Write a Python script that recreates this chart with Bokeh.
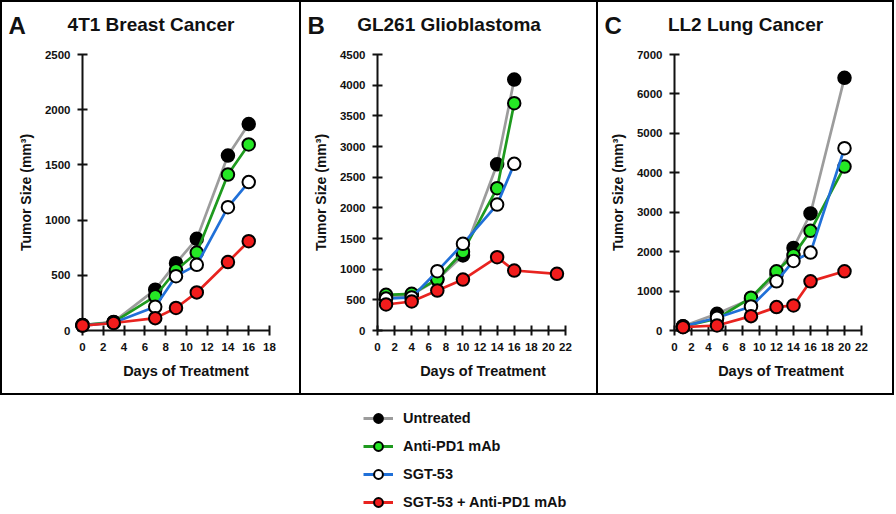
from bokeh.plotting import figure
from bokeh.models import Range1d, FixedTicker, Legend, LegendItem, ColumnDataSource
from bokeh.core.properties import value
from bokeh.layouts import row, column
from bokeh.embed import file_html
from bokeh.resources import INLINE

# ---------------- data ----------------
SERIES = ["Untreated", "Anti-PD1 mAb", "SGT-53", "SGT-53 + Anti-PD1 mAb"]
LINE_COLORS = ["#9c9c9c", "#1e9a1e", "#2070d8", "#e8231f"]
FILL_COLORS = ["#000000", "#25e825", "#ffffff", "#f21c1c"]

a_days = [0, 3, 7, 9, 11, 14, 16]
a_untreated = [50, 78, 370, 610, 830, 1585, 1870]
a_pd1 = [50, 75, 310, 545, 706, 1413, 1685]
a_sgt = [45, 70, 215, 492, 595, 1117, 1344]
a_combo = [45, 68, 112, 204, 345, 620, 809]
a_xticks = [0, 2, 4, 6, 8, 10, 12, 14, 16, 18]
a_yticks = [0, 500, 1000, 1500, 2000, 2500]

b_days = [1, 4, 7, 10, 14, 16]
b_combo_days = [1, 4, 7, 10, 14, 16, 21]
b_untreated = [540, 580, 830, 1223, 2710, 4092]
b_pd1 = [581, 598, 835, 1285, 2320, 3706]
b_sgt = [520, 540, 967, 1413, 2054, 2717]
b_combo = [424, 473, 652, 831, 1195, 978, 924]
b_xticks = [0, 2, 4, 6, 8, 10, 12, 14, 16, 18, 20, 22]
b_yticks = [0, 500, 1000, 1500, 2000, 2500, 3000, 3500, 4000, 4500]

c_days = [1, 5, 9, 12, 14, 16, 20]
c_untreated = [110, 424, 800, 1420, 2094, 2968, 6409]
c_pd1 = [100, 300, 831, 1501, 1908, 2527, 4159]
c_sgt = [100, 322, 610, 1247, 1764, 1976, 4623]
c_combo = [84, 127, 364, 593, 636, 1247, 1501]
c_xticks = [0, 2, 4, 6, 8, 10, 12, 14, 16, 18, 20, 22]
c_yticks = [0, 1000, 2000, 3000, 4000, 5000, 6000, 7000]

PANELS = [
    dict(letter="A", title="4T1 Breast Cancer", xticks=a_xticks, yticks=a_yticks,
         series=[(a_days, a_untreated), (a_days, a_pd1), (a_days, a_sgt), (a_days, a_combo)]),
    dict(letter="B", title="GL261 Glioblastoma", xticks=b_xticks, yticks=b_yticks,
         series=[(b_days, b_untreated), (b_days, b_pd1), (b_days, b_sgt), (b_combo_days, b_combo)]),
    dict(letter="C", title="LL2 Lung Cancer", xticks=c_xticks, yticks=c_yticks,
         series=[(c_days, c_untreated), (c_days, c_pd1), (c_days, c_sgt), (c_days, c_combo)]),
]

# ---------------- layout (pixels) ----------------
# per panel: outer width, left/right border, y-axis x, x-axis end x, frame right x (canvas px)
GEOM = [
    dict(w=299, bl=2, br=0, yax=80, xend=267, fr=287),
    dict(w=297, bl=2, br=0, yax=76, xend=264, fr=287),
    dict(w=298, bl=2, br=2, yax=76, xend=263, fr=289),
]
PANEL_H = 395        # incl. top and bottom border
FRAME_TOP = 52       # canvas y of top tick
FRAME_BOT = 328      # canvas y of zero
LETTER_POS = (6, 23)  # canvas px, baseline
TITLE_Y = 22          # canvas px, baseline
LEG_H = 119
FONT = "Liberation Sans"
BORDER = "2px solid black"
INK = "#111111"


def make_panel(cfg, g):
    xmax = cfg["xticks"][-1]
    ymax = cfg["yticks"][-1]
    cw = g["w"]
    ch = PANEL_H
    k = (g["xend"] - g["yax"]) / xmax          # px per day
    m = (FRAME_BOT - FRAME_TOP) / ymax          # px per mm3
    xe = (g["fr"] - g["yax"]) / k
    styles = {"border-left": BORDER, "border-top": BORDER, "border-bottom": BORDER}
    if g["br"]:
        styles["border-right"] = BORDER
    p = figure(width=g["w"], height=PANEL_H, x_range=Range1d(0, xe), y_range=Range1d(0, ymax),
               toolbar_location=None, output_backend="svg",
               min_border_left=g["yax"], min_border_right=cw - g["fr"],
               min_border_top=FRAME_TOP, min_border_bottom=ch - FRAME_BOT,
               outline_line_color=None, styles=styles)
    p.grid.visible = False

    for ax in (p.xaxis[0], p.yaxis[0]):
        ax.axis_line_width = 2
        ax.axis_line_color = INK
        ax.major_tick_line_width = 2
        ax.major_tick_line_color = INK
        ax.major_tick_in = 5
        ax.major_tick_out = 5
        ax.minor_tick_line_color = None
        ax.major_label_text_font = FONT
        ax.major_label_text_font_style = "bold"
        ax.major_label_text_font_size = "11.5px"
        ax.major_label_text_color = INK
        ax.axis_label_text_font = FONT
        ax.axis_label_text_font_style = "bold"
        ax.axis_label_text_color = INK

    p.xaxis.axis_label_text_font_size = "14.5px"
    p.yaxis.axis_label_text_font_size = "14px"
    p.xaxis.bounds = (0, xmax)
    p.xaxis.ticker = FixedTicker(ticks=cfg["xticks"])
    p.yaxis.ticker = FixedTicker(ticks=cfg["yticks"])
    p.xaxis.major_label_standoff = 7
    p.yaxis.major_label_standoff = 7
    p.xaxis.axis_label_standoff = 9
    p.yaxis.axis_label_standoff = 8
    p.xaxis.axis_label = "Days of Treatment"
    p.yaxis.axis_label = "Tumor Size (mm\u00b3)"

    for (xd, yd), lc, fc in zip(cfg["series"], LINE_COLORS, FILL_COLORS):
        p.line(xd, yd, line_color=lc, line_width=2.7, level="overlay")
        p.scatter(xd, yd, size=12.5, fill_color=fc, line_color="black", line_width=2, level="overlay")

    # panel letter and title, placed in the header strip above the axes
    def to_data(cx, cy):
        return (cx - g["yax"]) / k, ymax + (FRAME_TOP - cy) / m

    lx, ly = to_data(*LETTER_POS)
    tx, ty = to_data((g["w"] - g["bl"] - g["br"]) / 2, TITLE_Y)
    src_l = ColumnDataSource(dict(x=[lx], y=[ly], t=[cfg["letter"]]))
    src_t = ColumnDataSource(dict(x=[tx], y=[ty], t=[cfg["title"]]))
    p.text("x", "y", text="t", source=src_l, text_font=value(FONT), text_font_style="bold",
           text_font_size="24px", text_color=INK, text_baseline="alphabetic",
           text_align="left", level="overlay")
    p.text("x", "y", text="t", source=src_t, text_font=value(FONT), text_font_style="bold",
           text_font_size="19px", text_color=INK, text_baseline="alphabetic",
           text_align="center", level="overlay")
    return p


panels = [make_panel(cfg, g) for cfg, g in zip(PANELS, GEOM)]

# ---------------- legend ----------------
total_w = sum(g["w"] for g in GEOM)
pl = figure(width=total_w, height=LEG_H, x_range=Range1d(0, 1), y_range=Range1d(0, 1),
            x_axis_type=None, y_axis_type=None, min_border=0, toolbar_location=None,
            output_backend="svg", outline_line_color=None)
pl.grid.visible = False
items = []
for (xd, yd), name, lc, fc in zip(PANELS[0]["series"], SERIES, LINE_COLORS, FILL_COLORS):
    lr = pl.line(xd, yd, line_color=lc, line_width=3, visible=False)
    sr = pl.scatter(xd, yd, size=12, fill_color=fc, line_color="black", line_width=2, visible=False)
    items.append(LegendItem(label=name, renderers=[lr, sr]))
leg = Legend(items=items, location=(363, 1), border_line_color=None, background_fill_alpha=0,
             padding=0, margin=0, spacing=6, glyph_width=30, glyph_height=22, label_height=22,
             label_standoff=10, inactive_fill_alpha=0,
             label_text_font=FONT, label_text_font_style="bold", label_text_font_size="14.5px",
             label_text_color=INK)
pl.add_layout(leg)

layout = column(row(*panels, spacing=0), pl, spacing=0)
open("out.html", "w").write(file_html(layout, INLINE))
